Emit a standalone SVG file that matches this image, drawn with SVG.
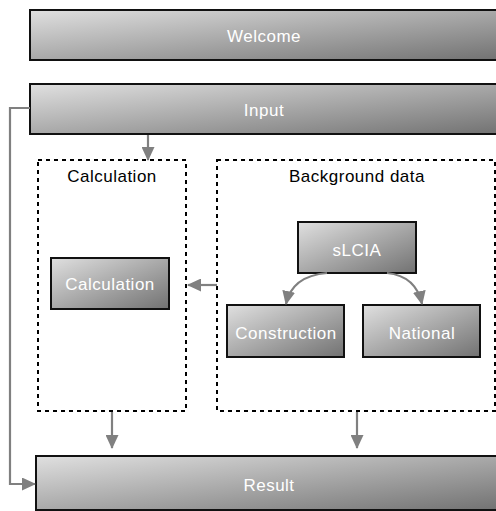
<svg xmlns="http://www.w3.org/2000/svg" width="496" height="511" viewBox="0 0 496 511">
<defs>
<linearGradient id="g" x1="0" y1="0" x2="1" y2="1">
<stop offset="0" stop-color="#e0e0e0"/>
<stop offset="1" stop-color="#727272"/>
</linearGradient>
<marker id="ah" viewBox="0 0 14 13" refX="13" refY="6.5" markerWidth="14" markerHeight="13" orient="auto" markerUnits="userSpaceOnUse">
<path d="M0,0 L14,6.5 L0,13 Z" fill="#808080"/>
</marker>
<style>
.node{fill:url(#g);stroke:#111;stroke-width:2}
.nt{font-family:"Liberation Sans",Arial,sans-serif;font-size:17px;letter-spacing:0.5px;fill:#fff;text-anchor:middle}
.tt{font-family:"Liberation Sans",Arial,sans-serif;font-size:17px;letter-spacing:0.5px;fill:#000;text-anchor:middle}
.grp{fill:none;stroke:#000;stroke-width:2;stroke-dasharray:4,4}
.c{fill:none;stroke:#808080;stroke-width:2.2;marker-end:url(#ah)}
</style>
</defs>
<g id="welcome"><rect class="node" x="30" y="10" width="470" height="50"/><text class="nt" x="264" y="42">Welcome</text></g>
<g id="input"><rect class="node" x="30" y="84" width="470" height="50"/><text class="nt" x="264" y="116">Input</text></g>
<g id="calc-group"><rect class="grp" x="38" y="160" width="148" height="251"/><text class="tt" x="112" y="182">Calculation</text></g>
<g id="bg-group"><rect class="grp" x="217" y="160" width="278" height="251"/><text class="tt" x="357" y="182">Background data</text></g>
<g id="calculation"><rect class="node" x="51" y="258" width="118" height="51"/><text class="nt" x="110" y="290">Calculation</text></g>
<g id="slcia"><rect class="node" x="298" y="222" width="118" height="51"/><text class="nt" x="357" y="256">sLCIA</text></g>
<g id="construction"><rect class="node" x="227" y="305" width="117" height="52"/><text class="nt" x="286" y="339">Construction</text></g>
<g id="national"><rect class="node" x="363" y="305" width="117" height="52"/><text class="nt" x="422" y="339">National</text></g>
<g id="result"><rect class="node" x="36" y="456" width="466" height="54"/><text class="nt" x="269" y="491">Result</text></g>
<g id="connectors">
<path class="c" d="M148,135 V160"/>
<path class="c" d="M217,285 H188"/>
<path class="c" d="M327,273 Q292,276 286,304"/>
<path class="c" d="M387,273 Q416,276 422,304"/>
<path class="c" d="M112,412 V448"/>
<path class="c" d="M357,412 V448"/>
<path class="c" d="M30,108 H10 V484 H35"/>
</g>
</svg>
